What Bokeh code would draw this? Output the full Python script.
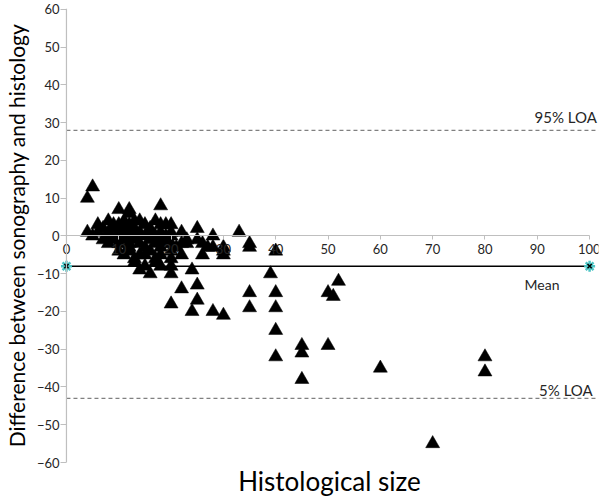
from bokeh.plotting import figure
from bokeh.models import Range1d, LinearAxis, FixedTicker, Label, Span
from bokeh.embed import file_html
from bokeh.resources import INLINE

# Histological size (x) and difference sonography - histology (y)
hist_size = [4, 5, 10, 12, 12, 18,
             6, 8, 9, 10, 11, 12, 13, 14, 15, 16, 17, 18, 19, 20, 25,
             4, 5, 6, 7, 8, 8, 9, 10, 10, 11, 11, 12, 13, 13, 14, 15, 16, 17, 18, 18, 19, 20, 20, 22, 28, 33, 23, 25,
             7, 8, 9, 10, 11, 12, 12, 13, 14, 15, 16, 17, 18, 19, 20, 21, 22, 23, 26, 27, 28, 30, 35, 35, 40, 30,
             10, 11, 12, 13, 14, 15, 16, 17, 18, 20, 20, 22, 26, 30,
             13, 14, 15, 16, 17, 18, 20, 20, 24, 39,
             22, 25, 25, 20, 24, 28, 30, 35, 35, 40, 40, 40, 40, 45, 45, 45, 50, 50, 51, 52, 60, 80, 80, 70]
difference = [10, 13, 7, 7, 6, 8,
              3, 4, 3, 3, 4, 3, 4, 4, 3, 2, 4, 3, 3, 3, 2,
              1, 0, 1, 2, 1, 0, 2, 1, 0, 2, 0, 1, 0, 2, 1, 0, 1, 0, 1, -1, 0, 1, 0, 1, 0, 1, -1, -1,
              -1, -2, -1, -2, -1, -2, -3, -1, -2, -3, -1, -2, -3, -2, -2, -3, -2, -2, -2, -3, -3, -3, -2, -3, -4, -4,
              -4, -5, -4, -6, -5, -5, -4, -6, -5, -4, -6, -5, -5, -5,
              -7, -9, -8, -10, -7, -8, -8, -10, -9, -10,
              -14, -13, -17, -18, -20, -20, -21, -15, -19, -15, -19, -25, -32, -29, -31, -38, -29, -15, -16, -12, -35, -32, -36, -55]

mean_diff = -8
loa_upper = 28
loa_lower = -43

x_ticks = [0, 10, 20, 30, 40, 50, 60, 70, 80, 90, 100]
y_ticks = [-60, -50, -40, -30, -20, -10, 0, 10, 20, 30, 40, 50, 60]

FONT = "Lato"
AXIS_GRAY = "#BFBFBF"
TXT = "#262626"

x_start, x_end = -1.14, 101.7
p = figure(width=600, height=499, output_backend="svg", toolbar_location=None,
           x_range=Range1d(x_start, x_end), y_range=Range1d(-60, 60.26),
           min_border_left=56, min_border_right=2, min_border_top=8, min_border_bottom=32)
p.outline_line_color = None
p.xgrid.visible = False
p.ygrid.visible = False
p.background_fill_color = "white"
p.border_fill_color = "white"

# x axis crossing at y = 0 (Excel style)
xa = p.below[0]
xa.fixed_location = 0
xa.bounds = (x_ticks[0], x_ticks[-1])
xa.ticker = FixedTicker(ticks=x_ticks)
xa.axis_line_color = AXIS_GRAY
xa.major_tick_line_color = AXIS_GRAY
xa.major_tick_out = 4
xa.major_tick_in = 0
xa.minor_tick_line_color = None
xa.major_label_standoff = 4
xa.major_label_text_font = FONT
xa.major_label_text_font_size = "13px"
xa.major_label_text_color = TXT

# y axis: labels on the left, axis line drawn at x = 0
ya = p.left[0]
ya.ticker = FixedTicker(ticks=y_ticks)
ya.axis_line_color = None
ya.major_tick_line_color = AXIS_GRAY
ya.major_tick_out = 0
ya.major_tick_in = 6
ya.minor_tick_line_color = None
ya.major_label_standoff = 1
ya.major_label_text_font = FONT
ya.major_label_text_font_size = "13px"
ya.major_label_text_color = TXT
ya.axis_label = "Difference between sonography and histology"
ya.axis_label_text_font = FONT
ya.axis_label_text_font_size = "21px"
ya.axis_label_text_font_style = "normal"
ya.axis_label_text_color = "black"
ya.axis_label_standoff = 5
p.add_layout(Span(location=x_ticks[0], dimension="height", line_color=AXIS_GRAY, line_width=1.2))

title_axis = LinearAxis(ticker=FixedTicker(ticks=[]), axis_label="Histological size",
                        axis_line_color=None, major_tick_line_color=None, minor_tick_line_color=None,
                        axis_label_text_font=FONT, axis_label_text_font_size="26px",
                        axis_label_text_font_style="normal", axis_label_text_color="black",
                        axis_label_standoff=2)
p.add_layout(title_axis, "below")

# limits of agreement (dashed)
p.segment(x0=[x_ticks[0], x_ticks[0]], y0=[loa_upper, loa_lower],
          x1=[x_end, x_end], y1=[loa_upper, loa_lower],
          line_color="#808080", line_width=1.2, line_dash="4 3")

# mean line with end markers
p.line(x=[x_ticks[0], x_ticks[-1]], y=[mean_diff, mean_diff], line_color="black", line_width=1.5)
p.scatter(x=[x_ticks[0], x_ticks[-1]], y=[mean_diff, mean_diff], marker="asterisk", size=11,
          line_color="#4CC4C4", line_width=2.5)
p.scatter(x=[x_ticks[0], x_ticks[-1]], y=[mean_diff, mean_diff], marker="x", size=6,
          line_color="black", line_width=1.5)

# data points
p.scatter(x=hist_size, y=difference, marker="triangle", size=14,
          fill_color="black", line_color="black", line_width=0.5)

for txt, lx, ly, align, fs in [("95% LOA", 101.4, loa_upper + 3.6, "right", "15px"),
                               ("Mean", 90.9, mean_diff - 4.9, "center", "14px"),
                               ("5% LOA", 100.6, loa_lower + 2.3, "right", "15px")]:
    p.add_layout(Label(x=lx, y=ly, text=txt, text_align=align, text_baseline="middle",
                       text_font=FONT, text_font_size=fs, text_color=TXT))

open("out.html", "w").write(file_html(p, INLINE))
